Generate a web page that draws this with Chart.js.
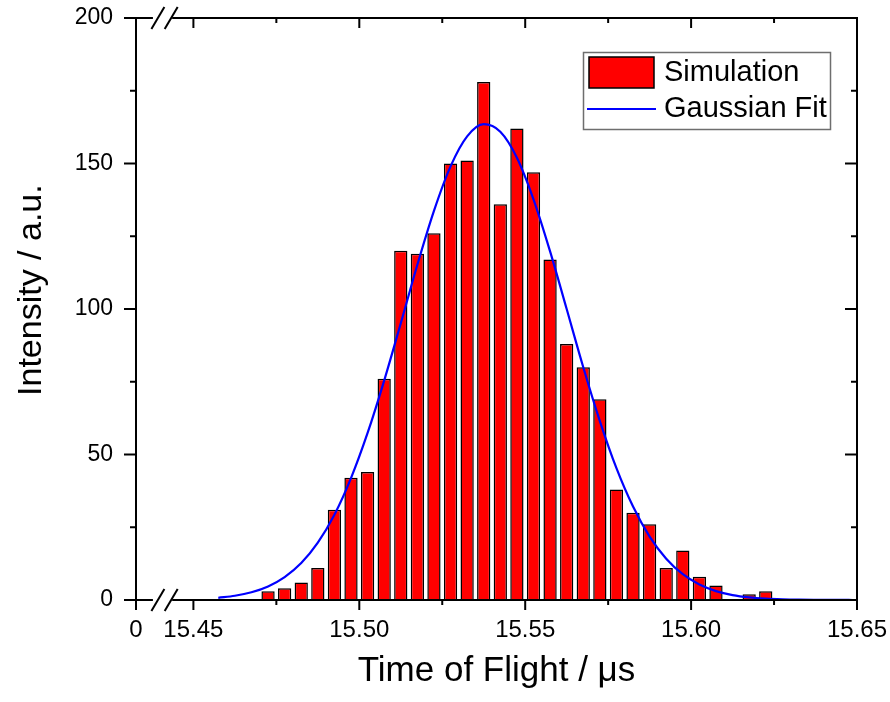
<!DOCTYPE html>
<html>
<head>
<meta charset="utf-8">
<script src="https://cdn.jsdelivr.net/npm/chart.js@4/dist/chart.umd.min.js"></script>
<style>
  html, body { margin: 0; padding: 0; background: #fff; }
  #wrap { width: 890px; height: 702px; position: relative; }
</style>
</head>
<body>
<div id="wrap"><canvas id="c"></canvas></div>
<script>
// ---------- DATA ----------
const binCenters = [15.4725, 15.4775, 15.4825, 15.4875, 15.4925, 15.4975, 15.5025, 15.5075,
  15.5125, 15.5175, 15.5225, 15.5275, 15.5325, 15.5375, 15.5425, 15.5475, 15.5525, 15.5575,
  15.5625, 15.5675, 15.5725, 15.5775, 15.5825, 15.5875, 15.5925, 15.5975, 15.6025, 15.6075,
  15.6125, 15.6175, 15.6225];
const simulationCounts = [3, 4, 6, 11, 31, 42, 44, 76, 120, 119, 126, 150, 151, 178, 136, 162,
  147, 117, 88, 80, 69, 38, 30, 26, 11, 17, 8, 5, 0, 2, 3];

const fitX = [15.4575, 15.4625, 15.4675, 15.4725, 15.4775, 15.4825, 15.4875, 15.4925, 15.4975,
  15.5025, 15.5075, 15.5125, 15.5175, 15.5225, 15.5275, 15.5325, 15.5375, 15.5425, 15.5475,
  15.5525, 15.5575, 15.5625, 15.5675, 15.5725, 15.5775, 15.5825, 15.5875, 15.5925, 15.5975,
  15.6025, 15.6075, 15.6125, 15.6175, 15.6225, 15.6275, 15.6325, 15.6375, 15.6425, 15.6475, 15.65];
const fitY = [0.76, 1.45, 2.66, 4.67, 7.87, 12.7, 19.7, 29.3, 41.9, 57.4, 75.4, 95.1, 115.2,
  133.7, 149.0, 159.3, 163.5, 160.9, 152.0, 137.7, 119.8, 100.0, 80.0, 61.5, 45.3, 32.1, 21.8,
  14.2, 8.86, 5.31, 3.06, 1.69, 0.89, 0.45, 0.22, 0.10, 0.05, 0.02, 0.01, 0.0];

const seriesLabels = ['Simulation', 'Gaussian Fit'];

// x axis: broken axis, left end labelled "0"
const xAxisStart = 15.4327;
const xAxisEnd = 15.65;
const xMajorTicks = [15.4327, 15.45, 15.50, 15.55, 15.60, 15.65];
const xTickLabels = ['0', '15.45', '15.50', '15.55', '15.60', '15.65'];
const xMinorTicks = [15.475, 15.525, 15.575, 15.625];
const xBreakFrom = 15.4378, xBreakTo = 15.4436;
const xBreakMarks = [15.4393, 15.4433];

const yMin = 0, yMax = 200;
const yMajorTicks = [0, 50, 100, 150, 200];
const yMinorTicks = [25, 75, 125, 175];

const xTitle = 'Time of Flight / \u03bcs';
const yTitle = 'Intensity / a.u.';

// ---------- STYLE ----------
const FONT = '"Liberation Sans", Arial, Helvetica, sans-serif';
Chart.defaults.font.family = FONT;
Chart.defaults.color = '#000';

const seg = (ctx, x1, y1, x2, y2) => { ctx.beginPath(); ctx.moveTo(x1, y1); ctx.lineTo(x2, y2); ctx.stroke(); };
const noPad = (s) => { s.paddingTop = 0; s.paddingBottom = 0; s.paddingLeft = 0; s.paddingRight = 0; };

const axisFrame = {
  id: 'axisFrame',
  afterDraw(chart) {
    const { ctx, chartArea: a, scales: { x, y } } = chart;
    ctx.save();
    ctx.strokeStyle = '#000';
    ctx.lineWidth = 2;
    ctx.lineCap = 'butt';
    const gL = x.getPixelForValue(xBreakFrom), gR = x.getPixelForValue(xBreakTo);
    seg(ctx, a.left, a.top - 1, a.left, a.bottom + 1);
    seg(ctx, a.right, a.top - 1, a.right, a.bottom + 1);
    [a.top, a.bottom].forEach(yy => {
      seg(ctx, a.left - 1, yy, gL, yy);
      seg(ctx, gR, yy, a.right + 1, yy);
    });
    yMajorTicks.forEach(v => {
      const p = y.getPixelForValue(v);
      seg(ctx, a.left - 12, p, a.left, p);
      seg(ctx, a.right - 12, p, a.right, p);
    });
    yMinorTicks.forEach(v => {
      const p = y.getPixelForValue(v);
      seg(ctx, a.left - 6, p, a.left, p);
      seg(ctx, a.right - 6, p, a.right, p);
    });
    xMajorTicks.forEach(v => {
      const p = x.getPixelForValue(v);
      seg(ctx, p, a.bottom, p, a.bottom + 10);
      seg(ctx, p, a.top, p, a.top + 10);
    });
    xMinorTicks.forEach(v => {
      const p = x.getPixelForValue(v);
      seg(ctx, p, a.bottom, p, a.bottom + 5);
      seg(ctx, p, a.top, p, a.top + 5);
    });
    [a.top, a.bottom].forEach(yy => {
      xBreakMarks.forEach(v => {
        const c = x.getPixelForValue(v);
        seg(ctx, c - 6.5, yy + 11, c + 6.5, yy - 11);
      });
    });
    ctx.restore();
  }
};

const boxLegend = {
  id: 'boxLegend',
  afterDraw(chart) {
    const { ctx } = chart;
    const ds = chart.data.datasets;
    ctx.save();
    ctx.strokeStyle = '#6e6e6e';
    ctx.lineWidth = 1.5;
    ctx.strokeRect(583.5, 52.5, 247, 77);
    ctx.fillStyle = ds[0].backgroundColor;
    ctx.fillRect(589, 57, 65, 31);
    ctx.strokeStyle = '#000';
    ctx.lineWidth = 1.5;
    ctx.strokeRect(589, 57, 65, 31);
    ctx.strokeStyle = ds[1].borderColor;
    ctx.lineWidth = 2;
    seg(ctx, 587, 109, 656, 109);
    ctx.fillStyle = '#000';
    ctx.font = '29px ' + FONT;
    ctx.textBaseline = 'middle';
    ctx.textAlign = 'left';
    ctx.fillText(ds[0].label, 664, 73);
    ctx.fillText(ds[1].label, 664, 109);
    ctx.restore();
  }
};

new Chart(document.getElementById('c'), {
  type: 'bar',
  data: {
    datasets: [
      {
        type: 'bar',
        label: seriesLabels[0],
        data: binCenters.map((x, i) => ({ x, y: simulationCounts[i] })),
        backgroundColor: '#ff0000',
        borderColor: '#000000',
        borderWidth: 1.5,
        barPercentage: 0.8,
        categoryPercentage: 1.0,
        order: 2
      },
      {
        type: 'line',
        label: seriesLabels[1],
        data: fitX.map((x, i) => ({ x, y: fitY[i] })),
        borderColor: '#0000ff',
        borderWidth: 2.2,
        pointRadius: 0,
        fill: false,
        cubicInterpolationMode: 'monotone',
        order: 1
      }
    ]
  },
  options: {
    responsive: true,
    maintainAspectRatio: false,
    animation: false,
    events: [],
    layout: { padding: { left: 0, top: 18, right: 33, bottom: 0 } },
    plugins: { legend: { display: false }, tooltip: { enabled: false } },
    scales: {
      x: {
        type: 'linear',
        position: 'bottom',
        offset: false,
        min: xAxisStart,
        max: xAxisEnd,
        grid: { display: false, drawTicks: false },
        border: { display: false },
        afterBuildTicks: (s) => { s.ticks = xMajorTicks.map(v => ({ value: v })); },
        afterFit: (s) => { s.height = 102; noPad(s); },
        ticks: {
          autoSkip: false,
          maxRotation: 0,
          minRotation: 0,
          padding: 16,
          font: { size: 24 },
          color: '#000',
          callback: (v, i) => xTickLabels[i]
        },
        title: {
          display: true,
          text: xTitle,
          font: { size: 35 },
          color: '#000',
          padding: { top: 0, bottom: 10 }
        }
      },
      y: {
        type: 'linear',
        position: 'left',
        min: yMin,
        max: yMax,
        grid: { display: false, drawTicks: false },
        border: { display: false },
        afterBuildTicks: (s) => { s.ticks = yMajorTicks.map(v => ({ value: v })); },
        afterFit: (s) => { s.width = 136; noPad(s); },
        ticks: {
          padding: 23,
          font: { size: 23 },
          color: '#000'
        },
        title: {
          display: true,
          text: '    ' + yTitle,
          font: { size: 34 },
          color: '#000',
          padding: { top: 11, bottom: 0 }
        }
      }
    }
  },
  plugins: [axisFrame, boxLegend]
});
</script>
</body>
</html>
